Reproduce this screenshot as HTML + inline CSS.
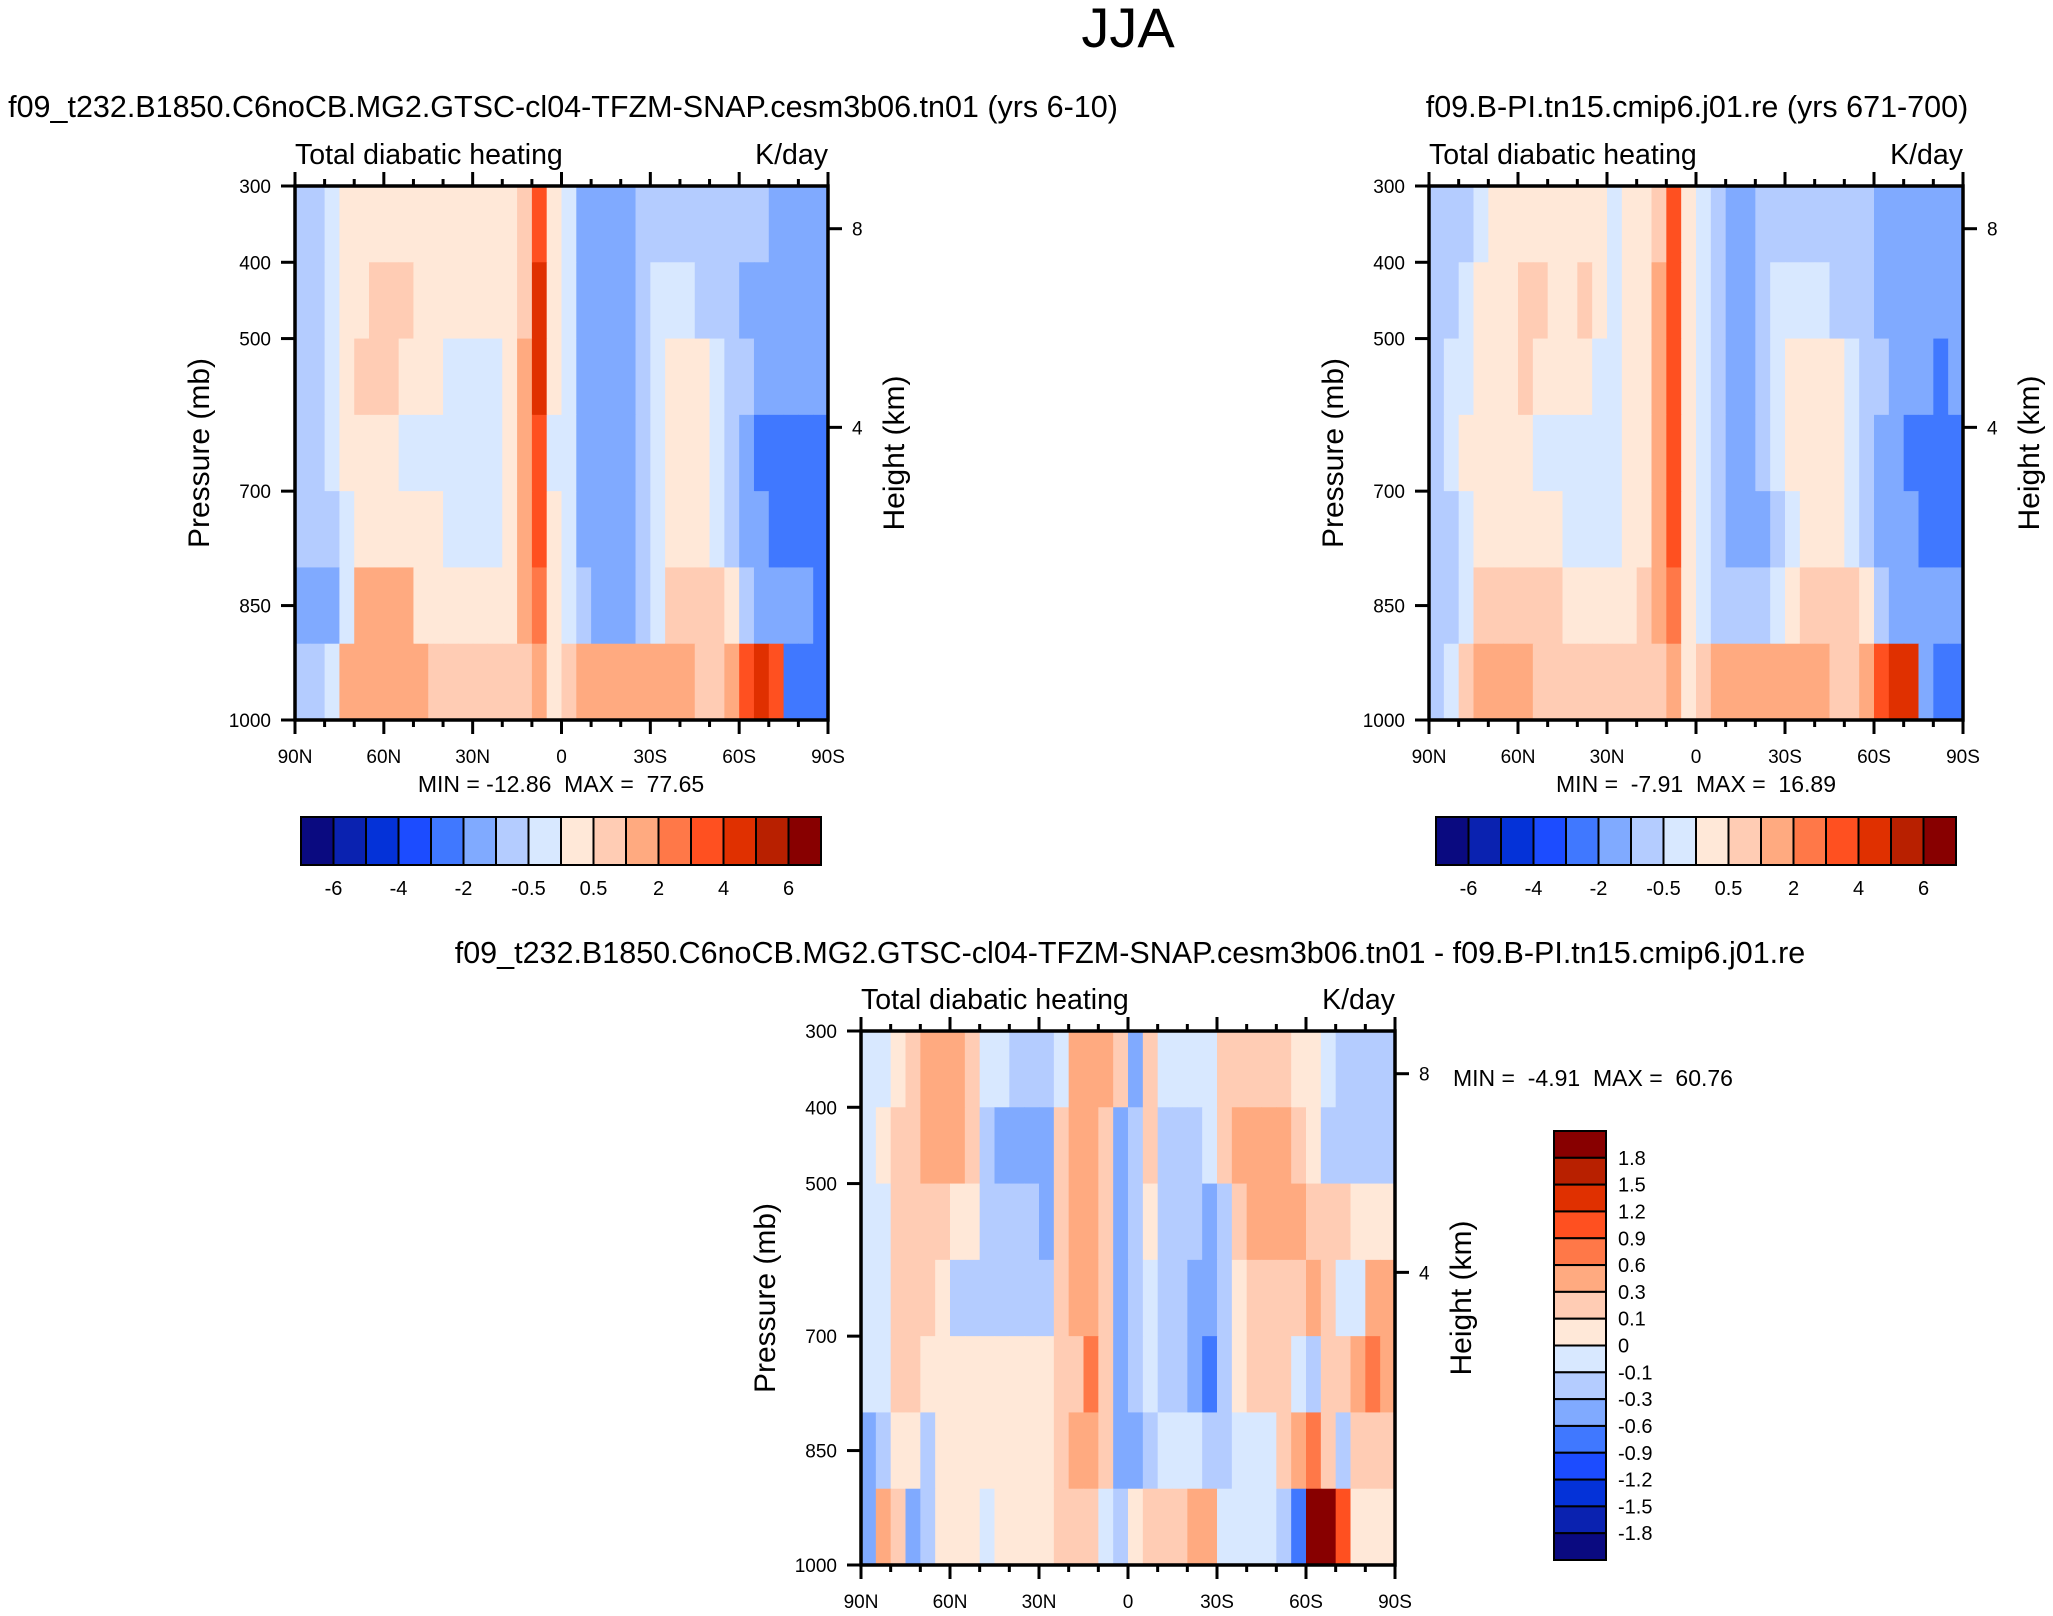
<!DOCTYPE html>
<html><head><meta charset="utf-8"><style>
html,body{margin:0;padding:0;background:#fff;}
svg{display:block;font-family:"Liberation Sans",sans-serif;}
.pre{white-space:pre;}
</style></head><body>
<svg id="fig" width="2053" height="1616" viewBox="0 0 2053 1616" xmlns="http://www.w3.org/2000/svg">
<text x="1128" y="47" font-size="56" text-anchor="middle">JJA</text>
</svg>
<script>
const latTickLabels = ["90N","60N","30N","0","30S","60S","90S"];
const presTicks = [300,400,500,700,850,1000];
const heightTicks = [8,4];
const rowCenters = [350,450,550,650,750,850,950];
const levelsAbs = [-6,-5,-4,-3,-2,-1,-0.5,0,0.5,1,2,3,4,5,6];
const levelsDiff = [-1.8,-1.5,-1.2,-0.9,-0.6,-0.3,-0.1,0,0.1,0.3,0.6,0.9,1.2,1.5,1.8];
const absBarLabels = ["-6","-4","-2","-0.5","0.5","2","4","6"];
const diffBarLabels = ["1.8","1.5","1.2","0.9","0.6","0.3","0.1","0","-0.1","-0.3","-0.6","-0.9","-1.2","-1.5","-1.8"];
const colors = ["#0a0a80","#0a22b0","#0432d8","#1c4cff","#4078ff","#80aaff","#b4ccff","#d8e8ff","#ffe8d8","#ffccb4","#ffaa80","#ff7848","#ff5020","#e03000","#b82000","#880000"];

const gridA = [
[-0.7,-0.7,-0.3,0.3,0.3,0.3,0.3,0.3,0.3,0.3,0.3,0.3,0.3,0.3,0.3,0.8,3,0.3,-0.3,-1.5,-1.5,-1.5,-1.5,-0.7,-0.7,-0.7,-0.7,-0.7,-0.7,-0.7,-0.7,-0.7,-1.5,-1.5,-1.5,-1.5],
[-0.7,-0.7,-0.3,0.3,0.3,0.8,0.8,0.8,0.3,0.3,0.3,0.3,0.3,0.3,0.3,0.8,4.5,0.3,-0.3,-1.5,-1.5,-1.5,-1.5,-0.7,-0.3,-0.3,-0.3,-0.7,-0.7,-0.7,-1.5,-1.5,-1.5,-1.5,-1.5,-1.5],
[-0.7,-0.7,-0.3,0.3,0.8,0.8,0.8,0.3,0.3,0.3,-0.3,-0.3,-0.3,-0.3,0.3,1.5,4.5,0.3,-0.3,-1.5,-1.5,-1.5,-1.5,-0.7,-0.3,0.3,0.3,0.3,-0.3,-0.7,-0.7,-1.5,-1.5,-1.5,-1.5,-1.5],
[-0.7,-0.7,-0.3,0.3,0.3,0.3,0.3,-0.3,-0.3,-0.3,-0.3,-0.3,-0.3,-0.3,0.3,1.5,3,-0.3,-0.3,-1.5,-1.5,-1.5,-1.5,-0.7,-0.3,0.3,0.3,0.3,-0.3,-0.7,-1.5,-3,-3,-3,-3,-3],
[-0.7,-0.7,-0.7,-0.3,0.3,0.3,0.3,0.3,0.3,0.3,-0.3,-0.3,-0.3,-0.3,0.3,1.5,3,0.3,-0.3,-1.5,-1.5,-1.5,-1.5,-0.7,-0.3,0.3,0.3,0.3,-0.3,-0.7,-1.5,-1.5,-3,-3,-3,-3],
[-1.5,-1.5,-1.5,-0.3,1.5,1.5,1.5,1.5,0.3,0.3,0.3,0.3,0.3,0.3,0.3,1.5,2.5,0.3,-0.3,-0.7,-1.5,-1.5,-1.5,-0.7,-0.3,0.8,0.8,0.8,0.8,0.3,-0.7,-1.5,-1.5,-1.5,-1.5,-3],
[-0.7,-0.7,-0.3,1.5,1.5,1.5,1.5,1.5,1.5,0.8,0.8,0.8,0.8,0.8,0.8,0.8,1.5,0.3,0.8,1.5,1.5,1.5,1.5,1.5,1.5,1.5,1.5,0.8,0.8,1.5,3,4.5,3,-3,-3,-3]];

const gridB = [
[-0.7,-0.7,-0.7,-0.3,0.3,0.3,0.3,0.3,0.3,0.3,0.3,0.3,-0.3,0.3,0.3,0.8,3,0.3,-0.3,-0.7,-1.5,-1.5,-0.7,-0.7,-0.7,-0.7,-0.7,-0.7,-0.7,-0.7,-1.5,-1.5,-1.5,-1.5,-1.5,-1.5],
[-0.7,-0.7,-0.3,0.3,0.3,0.3,0.8,0.8,0.3,0.3,0.8,0.3,-0.3,0.3,0.3,1.5,3,0.3,-0.3,-0.7,-1.5,-1.5,-0.7,-0.3,-0.3,-0.3,-0.3,-0.7,-0.7,-0.7,-1.5,-1.5,-1.5,-1.5,-1.5,-1.5],
[-0.7,-0.3,-0.3,0.3,0.3,0.3,0.8,0.3,0.3,0.3,0.3,-0.3,-0.3,0.3,0.3,1.5,3,0.3,-0.3,-0.7,-1.5,-1.5,-0.7,-0.3,0.3,0.3,0.3,0.3,-0.3,-0.7,-0.7,-1.5,-1.5,-1.5,-3,-1.5],
[-0.7,-0.3,0.3,0.3,0.3,0.3,0.3,-0.3,-0.3,-0.3,-0.3,-0.3,-0.3,0.3,0.3,1.5,3,0.3,-0.3,-0.7,-1.5,-1.5,-0.7,-0.3,0.3,0.3,0.3,0.3,-0.3,-0.7,-1.5,-1.5,-3,-3,-3,-3],
[-0.7,-0.7,-0.3,0.3,0.3,0.3,0.3,0.3,0.3,-0.3,-0.3,-0.3,-0.3,0.3,0.3,1.5,3,0.3,-0.3,-0.7,-1.5,-1.5,-1.5,-0.7,-0.3,0.3,0.3,0.3,-0.3,-0.7,-1.5,-1.5,-1.5,-3,-3,-3],
[-0.7,-0.7,-0.3,0.8,0.8,0.8,0.8,0.8,0.8,0.3,0.3,0.3,0.3,0.3,0.8,1.5,2.5,0.3,-0.3,-0.7,-0.7,-0.7,-0.7,-0.3,0.3,0.8,0.8,0.8,0.8,0.3,-0.7,-1.5,-1.5,-1.5,-1.5,-1.5],
[-0.7,-0.3,0.8,1.5,1.5,1.5,1.5,0.8,0.8,0.8,0.8,0.8,0.8,0.8,0.8,0.8,1.5,0.3,0.8,1.5,1.5,1.5,1.5,1.5,1.5,1.5,1.5,0.8,0.8,1.5,3,4.5,4.5,-1.5,-3,-3]];

const gridD = [
[-0.05,-0.05,0.05,0.2,0.45,0.45,0.45,0.2,-0.05,-0.05,-0.2,-0.2,-0.2,-0.05,0.45,0.45,0.45,0.2,-0.45,0.2,-0.05,-0.05,-0.05,-0.05,0.2,0.2,0.2,0.2,0.2,0.05,0.05,-0.05,-0.2,-0.2,-0.2,-0.2],
[-0.05,0.05,0.2,0.2,0.45,0.45,0.45,0.2,-0.2,-0.45,-0.45,-0.45,-0.45,0.2,0.45,0.45,0.2,-0.45,-0.2,0.2,-0.2,-0.2,-0.2,-0.05,0.2,0.45,0.45,0.45,0.45,0.2,0.05,-0.2,-0.2,-0.2,-0.2,-0.2],
[-0.05,-0.05,0.2,0.2,0.2,0.2,0.05,0.05,-0.2,-0.2,-0.2,-0.2,-0.45,0.2,0.45,0.45,0.2,-0.45,-0.2,0.05,-0.2,-0.2,-0.2,-0.45,-0.2,0.2,0.45,0.45,0.45,0.45,0.2,0.2,0.2,0.05,0.05,0.05],
[-0.05,-0.05,0.2,0.2,0.2,0.05,-0.2,-0.2,-0.2,-0.2,-0.2,-0.2,-0.2,0.2,0.45,0.45,0.2,-0.45,-0.2,-0.05,-0.2,-0.2,-0.45,-0.45,-0.2,0.05,0.2,0.2,0.2,0.2,0.45,0.2,-0.05,-0.05,0.45,0.45],
[-0.05,-0.05,0.2,0.2,0.05,0.05,0.05,0.05,0.05,0.05,0.05,0.05,0.05,0.2,0.2,0.75,0.2,-0.45,-0.2,-0.05,-0.2,-0.2,-0.45,-0.75,-0.2,0.05,0.2,0.2,0.2,-0.05,-0.2,0.2,0.2,0.45,0.75,0.45],
[-0.45,-0.2,0.05,0.05,-0.2,0.05,0.05,0.05,0.05,0.05,0.05,0.05,0.05,0.2,0.45,0.45,0.2,-0.45,-0.45,-0.2,-0.05,-0.05,-0.05,-0.2,-0.2,-0.05,-0.05,-0.05,0.2,0.45,0.75,0.2,-0.2,0.2,0.2,0.2],
[-0.45,0.45,0.2,-0.45,-0.2,0.05,0.05,0.05,-0.05,0.05,0.05,0.05,0.05,0.2,0.2,0.2,-0.05,-0.2,0.05,0.2,0.2,0.2,0.45,0.45,-0.05,-0.05,-0.05,-0.05,-0.2,-0.75,2.0,2.0,1.0,0.05,0.05,0.05]];

const NS="http://www.w3.org/2000/svg";
const svg=document.getElementById('fig');
function el(tag,attrs,parent){const e=document.createElementNS(NS,tag);for(const k in attrs)e.setAttribute(k,attrs[k]);(parent||svg).appendChild(e);return e;}
function txt(s,attrs,parent){const e=el('text',attrs,parent);e.textContent=s;return e;}
function colorFor(v,levels){let i=0;while(i<levels.length&&v>=levels[i])i++;return colors[i];}
function hToP(km){return 1013.25*Math.pow(1-2.2558e-5*km*1000,5.256);}

function drawPanel(P){
  const g=el('g',{});
  
  
  const xS=lat=>P.x0+(90-lat)/180*(P.x1-P.x0);
  const yS=p=>P.y0+(p-300)/700*(P.y1-P.y0);
  const nc=P.grid[0].length;
  P.grid.forEach((row,ri)=>{
    row.forEach((v,ci)=>{
      const la=90-ci*180/nc, lb=90-(ci+1)*180/nc;
      const pc=rowCenters[ri];
      const r=el('rect',{x:xS(la),y:yS(pc-50),width:xS(lb)-xS(la)+0.6,height:yS(pc+50)-yS(pc-50)+0.6,fill:colorFor(v,P.levels)},g);
      
      
    });
  });
  const ax=el('rect',{x:P.x0,y:P.y0,width:P.x1-P.x0,height:P.y1-P.y0,fill:'none',stroke:'#000','stroke-width':3.5},g);
  
  
  for(let lat=90;lat>=-90;lat-=10){
    const x=xS(lat), major=(lat%30===0);
    const L=major?14:7;
    el('line',{x1:x,x2:x,y1:P.y1,y2:P.y1+L,stroke:'#000','stroke-width':3},g);
    el('line',{x1:x,x2:x,y1:P.y0,y2:P.y0-L,stroke:'#000','stroke-width':3},g);
  }
  latTickLabels.forEach((s,i)=>{
    const t=txt(s,{x:xS(90-i*30),y:P.y1+43,'font-size':19,'text-anchor':'middle'},g);
    
    
  });
  presTicks.forEach(p=>{
    el('line',{x1:P.x0-14,x2:P.x0,y1:yS(p),y2:yS(p),stroke:'#000','stroke-width':3},g);
    const t=txt(String(p),{x:P.x0-24,y:yS(p)+7,'font-size':19,'text-anchor':'end'},g);
    
    
  });
  heightTicks.forEach(h=>{
    const y=yS(hToP(h));
    el('line',{x1:P.x1,x2:P.x1+14,y1:y,y2:y,stroke:'#000','stroke-width':3},g);
    const t=txt(String(h),{x:P.x1+24,y:y+7,'font-size':19},g);
    
    
  });
  const yc=(P.y0+P.y1)/2;
  let t=txt('Pressure (mb)',{x:P.x0-86,y:yc,'font-size':30,'text-anchor':'middle',transform:`rotate(-90 ${P.x0-86} ${yc})`},g);
  
  t=txt('Height (km)',{x:P.x1+76,y:yc,'font-size':30,'text-anchor':'middle',transform:`rotate(-90 ${P.x1+76} ${yc})`},g);
  
  t=txt('Total diabatic heating',{x:P.x0,y:P.y0-22,'font-size':28.5},g);
  
  t=txt('K/day',{x:P.x1,y:P.y0-22,'font-size':28.5,'text-anchor':'end'},g);
  
  t=txt(P.title,{x:P.tx,y:P.ty,'font-size':30.5,'text-anchor':'middle'},g);
  
  t=txt(P.minmax,{x:P.mx,y:P.my,'font-size':23,'text-anchor':P.manchor,'class':'pre'},g);
  
}
function hBar(x0,x1,y0,y1){
  const g=el('g',{});
  
  
  const w=(x1-x0)/16;
  colors.forEach((c,i)=>{
    const r=el('rect',{x:x0+i*w,y:y0,width:w,height:y1-y0,fill:c,stroke:'#000','stroke-width':2},g);
    
    
  });
  absBarLabels.forEach((s,i)=>{
    const t=txt(s,{x:x0+(2*i+1)*w,y:y1+30,'font-size':20,'text-anchor':'middle'},g);
    
    
  });
}
function vBar(x0,x1,y0,y1){
  const g=el('g',{});
  
  
  const h=(y1-y0)/16;
  colors.slice().reverse().forEach((c,i)=>{
    const r=el('rect',{x:x0,y:y0+i*h,width:x1-x0,height:h,fill:c,stroke:'#000','stroke-width':2},g);
    
    
  });
  diffBarLabels.forEach((s,i)=>{
    const t=txt(s,{x:x1+12,y:y0+(i+1)*h+7,'font-size':20},g);
    
    
  });
}
drawPanel({name:'panel-model',grid:gridA,levels:levelsAbs,x0:295,x1:828,y0:186,y1:720,
  title:'f09_t232.B1850.C6noCB.MG2.GTSC-cl04-TFZM-SNAP.cesm3b06.tn01 (yrs 6-10)',tx:563,ty:117,
  minmax:'MIN = -12.86  MAX =  77.65',mx:561,my:792,manchor:'middle'});
drawPanel({name:'panel-control',grid:gridB,levels:levelsAbs,x0:1429,x1:1963,y0:186,y1:720,
  title:'f09.B-PI.tn15.cmip6.j01.re (yrs 671-700)',tx:1697,ty:117,
  minmax:'MIN =  -7.91  MAX =  16.89',mx:1696,my:792,manchor:'middle'});
drawPanel({name:'panel-difference',grid:gridD,levels:levelsDiff,x0:861,x1:1395,y0:1031,y1:1565,
  title:'f09_t232.B1850.C6noCB.MG2.GTSC-cl04-TFZM-SNAP.cesm3b06.tn01 - f09.B-PI.tn15.cmip6.j01.re',tx:1130,ty:963,
  minmax:'MIN =  -4.91  MAX =  60.76',mx:1453,my:1086,manchor:'start'});
hBar(301,821,817,865);
hBar(1436,1956,817,865);
vBar(1554,1606,1131,1560);
</script>
</body></html>
